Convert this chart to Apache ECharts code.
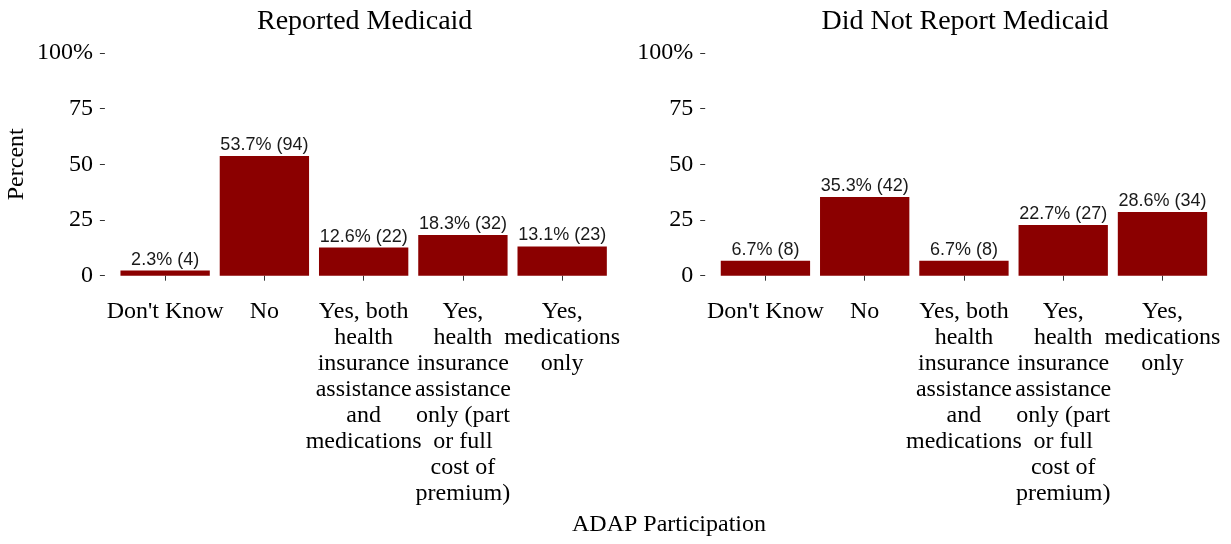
<!DOCTYPE html>
<html lang="en">
<head>
<meta charset="UTF-8">
<title>ADAP Participation</title>
<style>
  html, body { margin: 0; padding: 0; background: #fff; }
  #chart { width: 1231px; height: 544px; }
</style>
</head>
<body>
<div id="chart"></div>
<script src="https://cdn.jsdelivr.net/npm/echarts@6/dist/echarts.min.js"></script>
<script>
var categories = [
    "Don't Know",
    'No',
    'Yes, both\nhealth\ninsurance\nassistance\nand\nmedications',
    'Yes,\nhealth\ninsurance\nassistance\nonly (part\nor full\ncost of\npremium)',
    'Yes,\nmedications\nonly'
];
var panelTitles = ['Reported Medicaid', 'Did Not Report Medicaid'];
var reportedPct = [2.3, 53.7, 12.6, 18.3, 13.1];
var reportedN = [4, 94, 22, 32, 23];
var notReportedPct = [6.7, 35.3, 6.7, 22.7, 28.6];
var notReportedN = [8, 42, 8, 27, 34];
var yTicks = [0, 25, 50, 75, 100];

var serif = 'Liberation Serif';
var sans = 'Liberation Sans';
var gridLefts = [115.5, 715.8];
var gridWidth = 496.3;
var gridTop = 52.8;
var gridHeight = 222.9;

var chart = echarts.init(document.getElementById('chart'));

function xAxisFor(i) {
    return {
        type: 'category',
        gridIndex: i,
        data: categories,
        offset: 12.3,
        axisLine: { show: false },
        axisTick: { show: true, alignWithLabel: true, length: 5, lineStyle: { color: '#333' } },
        axisLabel: {
            interval: 0, margin: 11, fontFamily: serif, fontSize: 24,
            lineHeight: 26, color: '#000', align: 'center'
        },
        splitLine: { show: false }
    };
}

function yAxisFor(i) {
    return {
        type: 'value',
        gridIndex: i,
        min: 0, max: 100, interval: 25,
        offset: 10.6,
        name: i === 0 ? 'Percent' : '',
        nameLocation: 'middle',
        nameGap: 76,
        nameTextStyle: { fontFamily: serif, fontSize: 24, color: '#000' },
        axisLine: { show: false },
        axisTick: { show: true, length: 5, lineStyle: { color: '#333' } },
        axisLabel: {
            margin: 12, fontFamily: serif, fontSize: 24, color: '#000',
            formatter: function (v) { return v === yTicks[yTicks.length - 1] ? v + '%' : String(v); }
        },
        splitLine: { show: false }
    };
}

function barSeries(i, pct, counts) {
    return {
        type: 'bar',
        xAxisIndex: i,
        yAxisIndex: i,
        data: pct,
        barCategoryGap: '10%',
        itemStyle: { color: '#8b0000' },
        label: {
            show: true, position: 'top', distance: 2,
            fontFamily: sans, fontSize: 18, color: '#1a1a1a',
            formatter: function (p) { return pct[p.dataIndex].toFixed(1) + '% (' + counts[p.dataIndex] + ')'; }
        }
    };
}

chart.setOption({
    animation: false,
    backgroundColor: '#fff',
    title: [
        { text: panelTitles[0], left: gridLefts[0] + gridWidth / 2 - 4, top: 3, textAlign: 'center',
          textStyle: { fontFamily: serif, fontSize: 28, fontWeight: 'normal', color: '#000' } },
        { text: panelTitles[1], left: gridLefts[1] + gridWidth / 2 - 4, top: 3, textAlign: 'center',
          textStyle: { fontFamily: serif, fontSize: 28, fontWeight: 'normal', color: '#000' } },
        { text: 'ADAP Participation', left: 664, top: 508, textAlign: 'center',
          textStyle: { fontFamily: serif, fontSize: 24, fontWeight: 'normal', color: '#000' } }
    ],
    grid: [
        { left: gridLefts[0], top: gridTop, width: gridWidth, height: gridHeight },
        { left: gridLefts[1], top: gridTop, width: gridWidth, height: gridHeight }
    ],
    xAxis: [xAxisFor(0), xAxisFor(1)],
    yAxis: [yAxisFor(0), yAxisFor(1)],
    series: [
        barSeries(0, reportedPct, reportedN),
        barSeries(1, notReportedPct, notReportedN)
    ]
});
</script>
</body>
</html>
